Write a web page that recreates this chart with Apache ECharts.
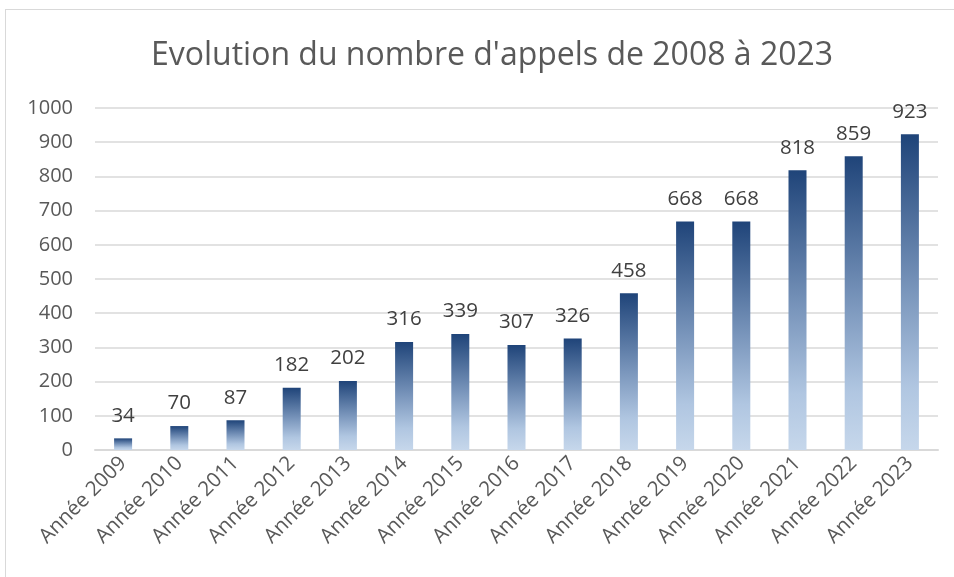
<!DOCTYPE html>
<html>
<head>
<meta charset="utf-8">
<script src="https://cdn.jsdelivr.net/npm/echarts@6/dist/echarts.min.js"></script>
<style>
  html, body { margin: 0; padding: 0; background: #fff; }
  #frame { position: absolute; left: 5px; top: 9px; width: 952px; height: 570px; border: 1px solid #D9D9D9; box-sizing: border-box; }
  #chart { width: 954px; height: 577px; }
</style>
</head>
<body>
<div id="frame"></div>
<div id="chart"></div>
<script>
// Appels par année
const categories = ["Année 2009", "Année 2010", "Année 2011", "Année 2012", "Année 2013", "Année 2014", "Année 2015", "Année 2016",
  "Année 2017", "Année 2018", "Année 2019", "Année 2020", "Année 2021", "Année 2022", "Année 2023"];
const appels = [34, 70, 87, 182, 202, 316, 339, 307, 326, 458, 668, 668, 818, 859, 923];
const yTicks = { min: 0, max: 1000, interval: 100 };

let myChart = echarts.init(document.getElementById("chart"));
let option = {
  backgroundColor: "transparent",
  title: {
    text: "Evolution du nombre d'appels de 2008 à 2023",
    left: 487,
    textAlign: "center",
    top: 35,
    textStyle: { color: "#595959", fontSize: 32, fontWeight: "normal", fontFamily: "Open Sans" }
  },
  grid: { left: 95, right: 16, top: 108, bottom: 127 },
  xAxis: {
    type: "category",
    data: categories,
    axisLine: { lineStyle: { color: "#D9D9D9", width: 2 } },
    axisTick: { show: false },
    axisLabel: { rotate: 45, color: "#595959", fontSize: 20.5, fontFamily: "Open Sans", margin: 10, interval: 0 }
  },
  yAxis: {
    type: "value",
    min: yTicks.min, max: yTicks.max, interval: yTicks.interval,
    axisLine: { show: false },
    axisTick: { show: false },
    axisLabel: { color: "#595959", fontSize: 20, fontFamily: "Open Sans", margin: 22, formatter: (v) => String(v) },
    splitLine: { lineStyle: { color: "#D9D9D9", width: 1.5 } }
  },
  series: [{
    type: "bar",
    data: appels,
    barWidth: 18,
    animation: false,
    itemStyle: {
      color: new echarts.graphic.LinearGradient(0, 0, 0, 1, [
        { offset: 0, color: "#1F4479" },
        { offset: 0.5, color: "#7A96BC" },
        { offset: 0.8, color: "#B0C6E1" },
        { offset: 1, color: "#C6D7EB" }
      ])
    },
    label: { show: true, position: "top", distance: 12, color: "#404040", fontSize: 20.5, fontFamily: "Open Sans" }
  }]
};
myChart.setOption(option);
</script>
</body>
</html>
